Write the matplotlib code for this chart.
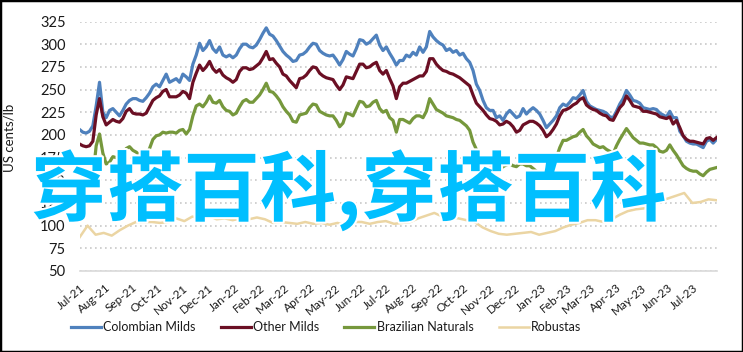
import numpy as np
import pandas as pd
import matplotlib
matplotlib.use('Agg')
import matplotlib.pyplot as plt
import matplotlib.dates as mdates
import matplotlib.patheffects as pe
from matplotlib.patches import Rectangle

plt.rcParams['font.family'] = ['Lato', 'DejaVu Sans']

start_date = '2021-07-01'
end_date = '2023-07-29'

series_names = ['Colombian Milds', 'Other Milds', 'Brazilian Naturals', 'Robustas']

colombian_milds = [
    206, 203, 202, 204, 210, 232, 258, 225, 219, 227,
    229, 225, 221, 227, 234, 238, 240, 240, 238, 237,
    241, 246, 253, 256, 253, 260, 267, 258, 260, 262,
    258, 267, 264, 260, 278, 288, 301, 293, 297, 304,
    295, 291, 297, 288, 286, 288, 285, 288, 295, 300,
    300, 297, 296, 299, 305, 312, 318, 311, 309, 304,
    298, 292, 288, 285, 281, 282, 288, 289, 292, 297,
    301, 300, 293, 290, 288, 287, 288, 283, 277, 283,
    292, 289, 287, 295, 305, 304, 300, 302, 306, 310,
    299, 293, 297, 290, 284, 277, 282,
    282, 288, 286, 291, 288, 297, 291, 297, 314, 308,
    304, 301, 299, 293, 295, 291, 293, 288, 290, 284,
    280, 271, 256, 249, 238, 230, 227, 227, 219, 221,
    216, 223, 227, 223, 219, 221, 229, 223, 227, 230,
    227, 223, 216, 208, 212, 216, 221, 230, 234, 232,
    236, 241, 240, 244, 249, 237, 232, 230, 228, 227,
    226, 224, 220, 219, 226, 234, 240, 249, 244, 238,
    237, 235, 230, 229, 228, 229, 228, 224, 222, 220,
    226, 219, 219, 204, 199, 193, 191, 190, 190, 188,
    186, 193, 195, 191, 195,
]

other_milds = [
    190, 188, 187, 188, 193, 222, 240, 220, 211, 214,
    217, 215, 214, 218, 226, 229, 224, 223, 223, 222,
    224, 231, 238, 241, 243, 248, 250, 242, 242, 242,
    244, 248, 246, 240, 258, 268, 277, 271, 275, 281,
    273, 269, 272, 266, 263, 261, 258, 261, 270, 274,
    274, 272, 273, 276, 279, 285, 292, 283, 284, 279,
    275, 267, 265, 260, 256, 252, 262, 263, 266, 271,
    275, 274, 268, 265, 263, 262, 261, 255, 250, 255,
    264, 263, 262, 270, 278, 278, 274, 275, 278, 280,
    271, 267, 271, 262, 254, 240, 253,
    257, 257, 259, 261, 263, 265, 265, 270, 284, 284,
    278, 274, 271, 270, 268, 267, 265, 263, 260, 257,
    254, 244, 235, 231, 227, 222, 218, 217, 215, 211,
    212, 215, 213, 209, 203, 205, 211, 213, 215, 215,
    213, 210, 205, 198, 201, 206, 212, 221, 227, 228,
    230, 233, 235, 239, 241, 233, 230, 228, 227, 224,
    222, 221, 217, 216, 223, 230, 234, 243, 238, 232,
    231, 230, 226, 226, 225, 224, 223, 220, 219, 218,
    220, 212, 216, 208, 199, 195, 193, 193, 192, 191,
    190, 196, 197, 194, 197,
]

brazilian_naturals = [
    148, 146, 146, 147, 153, 188, 201, 180, 168, 170,
    176, 175, 174, 178, 185, 187, 183, 181, 178, 174,
    176, 185, 195, 199, 200, 203, 202, 203, 203, 202,
    205, 206, 201, 206, 221, 232, 234, 231, 236, 243,
    236, 235, 238, 231, 227, 226, 222, 224, 231, 237,
    239, 236, 236, 240, 244, 250, 257, 248, 247, 243,
    238, 231, 226, 222, 215, 214, 222, 223, 224, 230,
    234, 233, 226, 224, 222, 221, 221, 216, 209, 213,
    224, 223, 221, 229, 237, 236, 231, 232, 236, 238,
    229, 225, 227, 219, 216, 203, 217,
    217, 215, 213, 218, 221, 221, 219, 226, 240, 234,
    228, 226, 224, 221, 220, 219, 217, 216, 213, 210,
    205, 192, 184, 177, 173, 170, 166, 163, 161, 162,
    165, 167, 168, 166, 165, 168, 168, 166, 166, 163,
    160, 158, 155, 152, 160, 167, 175, 186, 194, 194,
    196, 198, 199, 203, 206, 199, 195, 190, 188, 186,
    187, 184, 182, 179, 188, 195, 201, 207, 202, 197,
    194, 191, 191, 190, 189, 189, 186, 182, 181, 183,
    189, 183, 178, 172, 166, 163, 161, 160, 160, 157,
    155, 159, 162, 163, 164,
]

robustas = [
    87, 100, 90, 92, 89, 95, 100, 104, 104, 104,
    103, 104, 108, 105, 110, 108, 111, 107, 108, 106,
    108, 107, 109, 107, 103, 104, 103, 102, 104, 102,
    103, 101, 103, 100, 104, 104, 102, 104, 105, 102,
    103, 104, 108, 111, 114, 110, 109, 108, 106, 104,
    98, 94, 91, 90, 91, 92, 93, 90, 92, 94,
    98, 101, 103, 106, 106, 104, 107, 112, 116, 118,
    119, 122, 127, 130, 133, 136, 125, 126, 129, 128,
]

y_ticks = [50, 75, 100, 125, 150, 175, 200, 225, 250, 275, 300, 325]
overlay_text = '穿搭百科,穿搭百科'

colors = ['#4F81BD', '#6B0F24', '#76983C', '#EBD5A3']
widths = [2.3, 2.3, 2.3, 1.8]

W, H = 743, 352
fig = plt.figure(figsize=(W / 100, H / 100), dpi=100)
ax = fig.add_axes([79.5 / W, 1 - 271 / H, (716.5 - 79.5) / W, (271 - 21.5) / H])

for name, vals, c, lw in zip(series_names,
                             [colombian_milds, other_milds, brazilian_naturals, robustas],
                             colors, widths):
    d = pd.date_range(start_date, end_date, periods=len(vals))
    ax.plot(d, vals, color=c, lw=lw, label=name, solid_joinstyle='round')

ax.set_ylim(50, 325)
ax.set_yticks(y_ticks)
ax.set_xlim(pd.Timestamp(start_date), pd.Timestamp(end_date))
ax.xaxis.set_major_locator(mdates.MonthLocator())
ax.xaxis.set_major_formatter(mdates.DateFormatter('%b-%y'))
for s in ['top', 'right', 'left']:
    ax.spines[s].set_visible(False)
ax.spines['bottom'].set_color('#d9d9d9')
ax.spines['bottom'].set_linewidth(1.2)
ax.grid(axis='y', color='#c8c8c8', ls=(0, (1, 2)), lw=1.2)
ax.set_axisbelow(True)
ax.tick_params(axis='y', length=0, labelsize=10.5, colors='#1a1a1a', pad=10)
ax.tick_params(axis='x', length=0, labelsize=8.5, colors='#1a1a1a', pad=8)
for lab in ax.get_xticklabels():
    lab.set_rotation(40)
    lab.set_ha('right')
    lab.set_rotation_mode('anchor')

fig.text(10 / W, 1 - 138 / H, 'US cents/lb', rotation=90, va='center', ha='center',
         fontsize=9.5, color='#1a1a1a')

fig.legend(loc='center', bbox_to_anchor=(0.439, 0.071), ncol=4, frameon=False,
           handlelength=2.4, handletextpad=0.2, columnspacing=2.0, fontsize=9,
           labelcolor='#1a1a1a')

fig.text(0.469, 0.459, overlay_text, fontsize=55, color='#00BFFF',
         family=['Noto Sans CJK SC', 'DejaVu Sans'], fontweight='bold',
         ha='center', va='center',
         path_effects=[pe.withStroke(linewidth=3, foreground='white')])

fig.patches.append(Rectangle((0, 0), 1, 1, transform=fig.transFigure, fill=False,
                             edgecolor='black', lw=2.5))

fig.savefig('out.png', dpi=100)
